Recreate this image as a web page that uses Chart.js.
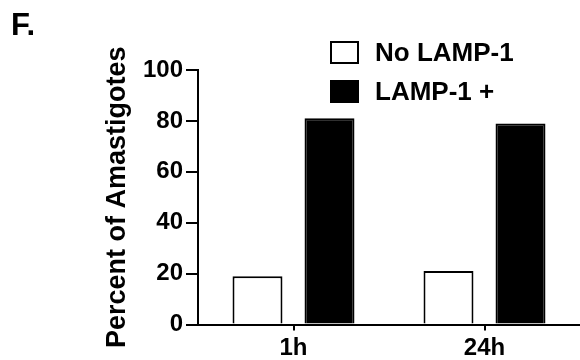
<!DOCTYPE html>
<html>
<head>
<meta charset="utf-8">
<script src="https://cdn.jsdelivr.net/npm/chart.js@4"></script>
<style>
  html, body { margin: 0; padding: 0; background: #fff; }
  #wrap { position: relative; width: 580px; height: 360px; }
</style>
</head>
<body>
<div id="wrap"><canvas id="c" width="580" height="360"></canvas></div>
<script>
const categories = ["1h", "24h"];
const seriesNames = ["No LAMP-1", "LAMP-1 +"];
const noLamp = [19, 21];
const lampPos = [81, 79];
const yTicks = [0, 20, 40, 60, 80, 100];
const panelLabel = "F.";
const yTitle = "Percent of Amastigotes";

const FONT = "'Liberation Sans', Arial, Helvetica, sans-serif";

const overlay = {
  id: 'overlay',
  afterDraw(chart) {
    const ctx = chart.ctx;
    ctx.save();
    // panel label
    ctx.fillStyle = '#000';
    ctx.font = 'bold 31px ' + FONT;
    ctx.textBaseline = 'alphabetic';
    ctx.textAlign = 'left';
    ctx.fillText(panelLabel, 11, 35);
    // legend
    const ds = chart.data.datasets;
    const rows = [52.5, 91.5];
    ds.forEach((d, i) => {
      const cy = rows[i];
      ctx.fillStyle = d.backgroundColor;
      ctx.fillRect(331, cy - 10.5, 27, 21);
      ctx.strokeStyle = '#000';
      ctx.lineWidth = 2;
      ctx.strokeRect(331, cy - 10.5, 27, 21);
      ctx.fillStyle = '#000';
      ctx.font = 'bold 26px ' + FONT;
      ctx.textBaseline = 'middle';
      ctx.fillText(d.label, 375, cy + 1);
    });
    ctx.restore();
  }
};

new Chart(document.getElementById('c'), {
  type: 'bar',
  data: {
    labels: categories,
    datasets: [
      { label: seriesNames[0], data: noLamp, backgroundColor: '#ffffff', borderColor: '#000', borderWidth: 2 },
      { label: seriesNames[1], data: lampPos, backgroundColor: '#000000', borderColor: '#000', borderWidth: 2 }
    ]
  },
  options: {
    responsive: false,
    animation: false,
    devicePixelRatio: 1,
    categoryPercentage: 0.754,
    barPercentage: 0.694,
    layout: { padding: { top: 70, right: 0, left: 0, bottom: 0 } },
    plugins: { legend: { display: false }, tooltip: { enabled: false }, title: { display: false } },
    scales: {
      x: {
        offset: true,
        afterFit(s) { s.height = 35.5; },
        grid: { display: true, drawOnChartArea: false, tickLength: 6, color: '#000', lineWidth: 2, offset: false },
        border: { display: true, color: '#000', width: 2 },
        ticks: { color: '#000', font: { family: FONT, size: 24, weight: 'bold' }, padding: 3 }
      },
      y: {
        min: 0, max: 100,
        afterFit(s) { s.width = 198; },
        afterBuildTicks(s) { s.ticks = yTicks.map(v => ({ value: v })); },
        grid: { display: true, drawOnChartArea: false, tickLength: 12, color: '#000', lineWidth: 2 },
        border: { display: true, color: '#000', width: 2 },
        ticks: { color: '#000', font: { family: FONT, size: 24, weight: 'bold' }, padding: 3 },
        title: {
          display: true, text: yTitle, color: '#000',
          font: { family: FONT, size: 27, weight: 'bold' },
          padding: { top: 101, bottom: 0 }
        }
      }
    }
  },
  plugins: [overlay]
});
</script>
</body>
</html>
